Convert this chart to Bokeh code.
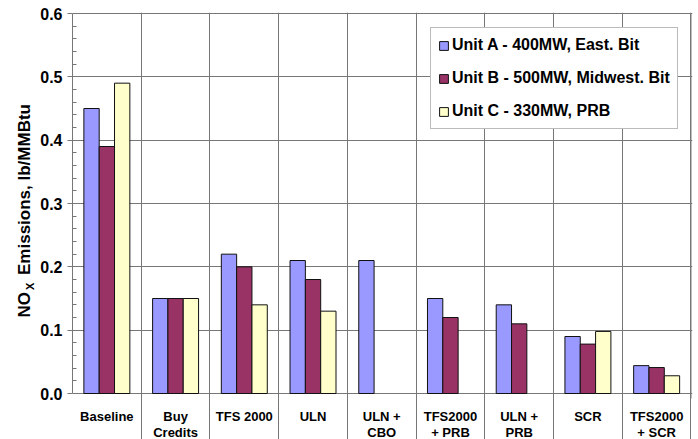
import numpy as np
from math import pi
from bokeh.plotting import figure
from bokeh.layouts import row
from bokeh.models import Range1d, FixedTicker, PrintfTickFormatter, Label, Grid
from bokeh.core.properties import value
from bokeh.embed import file_html
from bokeh.resources import INLINE

# ---- data ----
categories = ["Baseline", "Buy\nCredits", "TFS 2000", "ULN", "ULN +\nCBO",
              "TFS2000\n+ PRB", "ULN +\nPRB", "SCR", "TFS2000\n+ SCR"]
unit_a = np.array([0.45, 0.15, 0.22, 0.21, 0.21, 0.15, 0.14, 0.090, 0.044])
unit_b = np.array([0.39, 0.15, 0.20, 0.18, np.nan, 0.12, 0.11, 0.078, 0.041])
unit_c = np.array([0.49, 0.15, 0.14, 0.13, np.nan, np.nan, np.nan, 0.098, 0.028])
series_names = ["Unit A - 400MW, East. Bit", "Unit B - 500MW, Midwest. Bit", "Unit C - 330MW, PRB"]
y_ticks = [0.0, 0.1, 0.2, 0.3, 0.4, 0.5, 0.6]

FONT = "Liberation Sans"
GRID = "#777777"
n = len(categories)
centers = np.arange(n) + 0.5
bounds = list(range(n + 1))

W, H = 698, 439
TITLE_W = 36
TOP, AXIS_Y = 13, 393            # pixel rows of y=0.6 and y=0
PX = (AXIS_Y - TOP) / 0.6        # pixels per data unit (y)
PXX = 68.7                       # pixels per category (x)
y_bottom = -(H - AXIS_Y) / PX    # data value at the canvas bottom
y_max = y_ticks[-1]

p = figure(x_range=Range1d(0, n + 1.5 / PXX), y_range=Range1d(y_bottom, y_max + 1 / PX),
           x_axis_type=None, width=W - TITLE_W, height=H, output_backend="svg",
           toolbar_location=None, min_border_left=72 - TITLE_W, min_border_right=6,
           min_border_top=TOP - 1, min_border_bottom=0)
p.background_fill_color = "white"
p.border_fill_color = "white"
p.outline_line_color = None

# vertical grid at category boundaries, extending 5px below the axis as ticks
xticker = FixedTicker(ticks=bounds)
p.add_layout(Grid(dimension=0, ticker=xticker, grid_line_color=GRID, grid_line_width=1,
                  bounds=(-5 / PX, y_max)))

# y axis
minor = [round(i * 0.02, 2) for i in range(31) if i % 5 != 0]
yticker = FixedTicker(ticks=y_ticks, minor_ticks=minor)
yax = p.yaxis[0]
yax.ticker = yticker
yax.bounds = (0, y_max)
yax.formatter = PrintfTickFormatter(format="%.1f")
yax.axis_line_color = GRID
yax.major_tick_line_color = GRID
yax.minor_tick_line_color = GRID
yax.major_tick_out = 5
yax.major_tick_in = 0
yax.minor_tick_in = 4
yax.minor_tick_out = 0
yax.major_label_standoff = 5
yax.major_label_text_font = FONT
yax.major_label_text_font_style = "bold"
yax.major_label_text_font_size = "16px"
yax.major_label_text_color = "black"
p.ygrid.ticker = yticker
p.ygrid.grid_line_color = GRID
p.ygrid.grid_line_width = 1
p.ygrid.bounds = (0, n)

# plot-area border on the top and right (frame lines)
p.segment(x0=[0, n], y0=[y_max, -5 / PX], x1=[n, n], y1=[y_max, y_max],
          line_color=GRID, line_width=1)

# bars
w = 0.223
colors = ["#9999FF", "#993366", "#FFFFCC"]
for vals, off, col, name in zip([unit_a, unit_b, unit_c], [-w, 0.0, w], colors, series_names):
    p.vbar(x=centers + off, top=vals, width=w,
           fill_color=col, line_color="#111111", line_width=1, legend_label=name)

# category labels below the axis
p.text(x=centers, y=np.full(n, -15.5 / PX), text=categories, text_align="center",
       text_baseline="top", text_font=value(FONT), text_font_style="bold",
       text_font_size="13px", text_color="black", text_line_height=1.07)

# legend
lg = p.legend[0]
lg.location = (358, 264 + (H - AXIS_Y))
lg.label_text_font = FONT
lg.label_text_font_style = "bold"
lg.label_text_font_size = "16px"
lg.label_text_color = "black"
lg.glyph_width = 11
lg.glyph_height = 11
lg.label_standoff = 3
lg.label_height = 20
lg.spacing = 13
lg.padding = 7
lg.margin = 0
lg.border_line_color = GRID
lg.border_line_width = 1
lg.background_fill_alpha = 1.0

# narrow panel holding the y axis title (with subscript X); data units = pixels from bottom
t = figure(x_range=Range1d(0, TITLE_W), y_range=Range1d(0, H - (TOP - 1)), width=TITLE_W,
           height=H, x_axis_type=None, y_axis_type=None, output_backend="svg",
           toolbar_location=None, min_border=0, min_border_left=0, min_border_right=0,
           min_border_top=TOP - 1, min_border_bottom=0)
t.outline_line_color = None
t.background_fill_color = "white"
t.border_fill_color = "white"
common = dict(angle=pi / 2, text_font=FONT, text_font_style="bold", text_color="black",
              text_align="center", text_baseline="middle")
t.add_layout(Label(x=24.2, y=H - 304.2, text="NO", text_font_size="17px", **common))
t.add_layout(Label(x=29.5, y=H - 285.9, text="X", text_font_size="11px", **common))
t.add_layout(Label(x=24.2, y=H - 189.0, text="Emissions, lb/MMBtu", text_font_size="17px", **common))

layout = row(t, p, spacing=0)
open("out.html", "w").write(file_html(layout, INLINE))
